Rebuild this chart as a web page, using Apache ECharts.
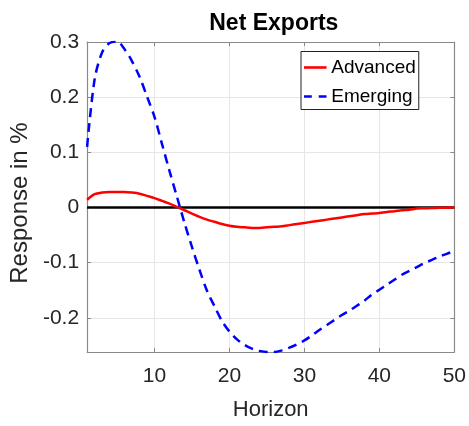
<!DOCTYPE html>
<html>
<head>
<meta charset="utf-8">
<script src="https://cdn.jsdelivr.net/npm/echarts@6/dist/echarts.min.js"></script>
<style>html,body{margin:0;padding:0;background:#fff}#c{width:469px;height:426px}</style>
</head>
<body>
<div id="c"></div>
<script>
var horizon = [1,2,3,4,5,6,7,8,9,10,11,12,13,14,15,16,17,18,19,20,21,22,23,24,25,26,27,28,29,30,31,32,33,34,35,36,37,38,39,40,41,42,43,44,45,46,47,48,49,50];
var advanced = [0.014,0.024,0.027,0.028,0.028,0.028,0.027,0.025,0.021,0.017,0.012,0.007,0.001,-0.005,-0.011,-0.017,-0.022,-0.026,-0.030,-0.033,-0.035,-0.036,-0.037,-0.037,-0.036,-0.035,-0.034,-0.032,-0.030,-0.028,-0.026,-0.024,-0.022,-0.020,-0.018,-0.016,-0.014,-0.012,-0.011,-0.010,-0.008,-0.007,-0.005,-0.004,-0.002,-0.0015,-0.001,-0.0006,-0.0003,0];
var emerging = [0.11,0.232,0.281,0.298,0.301,0.287,0.265,0.237,0.201,0.164,0.115,0.066,0.019,-0.028,-0.072,-0.113,-0.151,-0.179,-0.206,-0.225,-0.239,-0.249,-0.256,-0.260,-0.262,-0.262,-0.259,-0.254,-0.248,-0.241,-0.232,-0.222,-0.213,-0.204,-0.195,-0.187,-0.178,-0.169,-0.158,-0.149,-0.140,-0.131,-0.122,-0.115,-0.108,-0.101,-0.095,-0.089,-0.084,-0.078];
var xTicks = [10,20,30,40,50];
var yTicks = [-0.2,-0.1,0,0.1,0.2,0.3];
var seriesNames = ['Advanced','Emerging'];

function pairs(xs, ys){ return xs.map(function(x,i){ return [x, ys[i]]; }); }

var font = 'Liberation Sans, Arial, sans-serif';
var boxColor = '#8a8a8a';
var chart = echarts.init(document.getElementById('c'));
chart.setOption({
  animation: false,
  title: {
    text: 'Net Exports', left: 268.8, top: 7, textAlign: 'center',
    textStyle: {fontFamily: font, fontSize: 23, fontWeight: 'bold', color: '#000'}
  },
  legend: {
    orient: 'vertical', left: 301, top: 51.5,
    padding: [6, 3, 3, 3],
    itemGap: 9,
    itemWidth: 26, itemHeight: 2.6,
    backgroundColor: '#fff', borderColor: '#222', borderWidth: 1,
    textStyle: {fontFamily: font, fontSize: 19, color: '#000', lineHeight: 20, padding: [0,0,0,-2]},
    data: [
      {name: seriesNames[0], icon: 'path://M0,0H26V3H0Z'},
      {name: seriesNames[1], icon: 'path://M0,0H9V3H0Z M17,0H26V3H17Z'}
    ]
  },
  grid: {left: 82.7, right: 14, top: 42, bottom: 71, containLabel: false},
  xAxis: [{
    type: 'value', min: 1, max: 50,
    name: 'Horizon', nameLocation: 'middle', nameGap: 47,
    nameTextStyle: {fontFamily: font, fontSize: 22, color: '#262626'},
    axisLine: {show: true, onZero: false, lineStyle: {color: boxColor, width: 1.2}},
    axisTick: {show: true, inside: true, length: 4, customValues: xTicks, lineStyle: {color: boxColor}},
    axisLabel: {customValues: xTicks, margin: 14, fontFamily: font, fontSize: 21, color: '#262626'},
    splitLine: {show: true, lineStyle: {color: '#e6e6e6', width: 1}}
  },{
    type: 'value', min: 1, max: 50, position: 'top',
    axisLine: {show: true, onZero: false, lineStyle: {color: boxColor, width: 1.2}},
    axisTick: {show: true, inside: true, length: 4, customValues: xTicks, lineStyle: {color: boxColor}},
    axisLabel: {show: false},
    splitLine: {show: false}
  }],
  yAxis: [{
    type: 'value', min: -0.262, max: 0.3,
    name: 'Response in %', nameLocation: 'middle', nameGap: 49,
    nameTextStyle: {fontFamily: font, fontSize: 24, color: '#262626', padding: [0, 12, 0, 0]},
    axisLine: {show: true, onZero: false, lineStyle: {color: boxColor, width: 1.2}},
    axisTick: {show: true, inside: true, length: 4, customValues: yTicks, lineStyle: {color: boxColor}},
    axisLabel: {customValues: yTicks, margin: 8, fontFamily: font, fontSize: 21, color: '#262626'},
    splitLine: {show: true, lineStyle: {color: '#e6e6e6', width: 1}}
  },{
    type: 'value', min: -0.262, max: 0.3, position: 'right',
    axisLine: {show: true, onZero: false, lineStyle: {color: boxColor, width: 1.2}},
    axisTick: {show: true, inside: true, length: 4, customValues: yTicks, lineStyle: {color: boxColor}},
    axisLabel: {show: false},
    splitLine: {show: false}
  }],
  series: [{
    name: seriesNames[0], type: 'line', data: pairs(horizon, advanced),
    showSymbol: false, symbol: 'none', smooth: 0.3, z: 3,
    lineStyle: {color: '#ff0000', width: 2.5},
    itemStyle: {color: '#ff0000'},
    markLine: {
      silent: true, symbol: 'none', label: {show: false}, z: 2,
      lineStyle: {color: '#000', width: 2.5, type: 'solid'},
      data: [{yAxis: 0}]
    }
  },{
    name: seriesNames[1], type: 'line', data: pairs(horizon, emerging),
    showSymbol: false, symbol: 'none', smooth: 0.3, z: 4,
    lineStyle: {color: '#0000ff', width: 2.5, type: [9, 6]},
    itemStyle: {color: '#0000ff'}
  }]
});
</script>
</body>
</html>
